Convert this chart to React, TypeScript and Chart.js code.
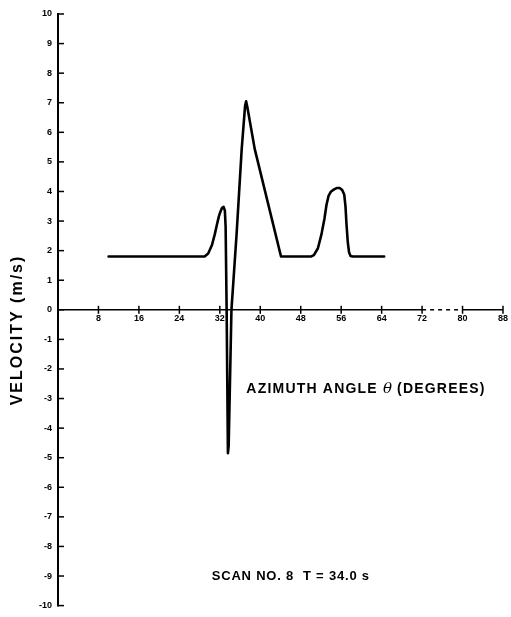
import React, { useEffect, useRef } from "react";
import { Chart, registerables } from "chart.js";

Chart.register(...registerables);

// Azimuth angle θ (degrees) and velocity (m/s)
const angleDeg = [
  10, 29, 29.7, 30.45, 31.0, 31.4, 31.8, 32.1, 32.45, 32.75, 33.0, 33.15, 33.35, 33.6,
  33.75, 34.3, 35.35, 36.33, 37.0, 37.2, 37.45, 38.9, 44.1,
  50, 50.6, 51.4, 52.1, 52.7, 53.1, 53.5, 54.0, 54.6, 55.2, 55.7, 56.2, 56.6, 56.85,
  57.05, 57.3, 57.55, 57.85, 58.3, 64.5,
];
const velocity = [
  1.8, 1.8, 1.9, 2.19, 2.55, 2.86, 3.15, 3.31, 3.45, 3.48, 3.35, 2.8, 0, -4.85,
  -4.6, 0, 2.64, 5.44, 6.9, 7.05, 6.85, 5.44, 1.8,
  1.8, 1.85, 2.08, 2.55, 3.09, 3.55, 3.85, 4.0, 4.07, 4.12, 4.12, 4.05, 3.9, 3.5,
  2.9, 2.3, 1.95, 1.82, 1.8, 1.8,
];

const xTickValues = [8, 16, 24, 32, 40, 48, 56, 64, 72, 80, 88];
const yTickValues = [-10, -9, -8, -7, -6, -5, -4, -3, -2, -1, 0, 1, 2, 3, 4, 5, 6, 7, 8, 9, 10];

const yTitle = "VELOCITY (m/s)";
const xTitleParts = ["AZIMUTH ANGLE ", "θ", " (DEGREES)"];
const scanCaption = "SCAN NO. 8  T = 34.0 s";

const FONT = "'Liberation Sans', Arial, Helvetica, sans-serif";

const axesPlugin = {
  id: "axesPlugin",
  afterDraw(chart: any) {
    const { ctx, scales } = chart;
    const xs = scales.x;
    const ys = scales.y;
    const x0 = xs.getPixelForValue(0);
    const y0 = ys.getPixelForValue(0);
    ctx.save();
    ctx.strokeStyle = "#000";
    ctx.fillStyle = "#000";
    ctx.lineCap = "butt";

    // y axis line
    ctx.lineWidth = 2;
    ctx.beginPath();
    ctx.moveTo(x0, ys.getPixelForValue(10) - 1);
    ctx.lineTo(x0, ys.getPixelForValue(-10) + 1);
    ctx.stroke();
    // y tick marks (inward)
    ctx.lineWidth = 1.5;
    yTickValues.forEach((v) => {
      const py = ys.getPixelForValue(v);
      ctx.beginPath();
      ctx.moveTo(x0, py);
      ctx.lineTo(x0 + 6, py);
      ctx.stroke();
    });

    // x axis line: solid, then dashed part
    ctx.lineWidth = 1.5;
    ctx.beginPath();
    ctx.moveTo(x0, y0);
    ctx.lineTo(xs.getPixelForValue(72), y0);
    ctx.stroke();
    ctx.setLineDash([4, 4]);
    ctx.beginPath();
    ctx.moveTo(xs.getPixelForValue(72), y0);
    ctx.lineTo(xs.getPixelForValue(80), y0);
    ctx.stroke();
    ctx.setLineDash([]);
    ctx.beginPath();
    ctx.moveTo(xs.getPixelForValue(80), y0);
    ctx.lineTo(xs.getPixelForValue(88), y0);
    ctx.stroke();
    // x tick marks crossing the axis
    xTickValues.forEach((v) => {
      const px = xs.getPixelForValue(v);
      ctx.beginPath();
      ctx.moveTo(px, y0 - 4);
      ctx.lineTo(px, y0 + 4);
      ctx.stroke();
    });

    // y title
    ctx.save();
    ctx.translate(18, 330);
    ctx.rotate(-Math.PI / 2);
    ctx.font = `bold 16px ${FONT}`;
    (ctx as any).letterSpacing = "2px";
    ctx.textAlign = "center";
    ctx.textBaseline = "middle";
    ctx.fillText(yTitle, 0, 0);
    ctx.restore();

    // x title near the curve
    ctx.save();
    ctx.textBaseline = "middle";
    ctx.textAlign = "left";
    let tx = xs.getPixelForValue(37.25);
    const ty = ys.getPixelForValue(-2.68);
    xTitleParts.forEach((part, i) => {
      if (i === 1) {
        ctx.font = `italic 15px 'DejaVu Serif', serif`;
        (ctx as any).letterSpacing = "0px";
      } else {
        ctx.font = `bold 14px ${FONT}`;
        (ctx as any).letterSpacing = "1.2px";
      }
      ctx.fillText(part, tx, ty);
      tx += ctx.measureText(part).width;
    });
    ctx.restore();

    // scan caption
    ctx.save();
    ctx.font = `bold 13px ${FONT}`;
    (ctx as any).letterSpacing = "0.8px";
    ctx.textAlign = "left";
    ctx.textBaseline = "middle";
    ctx.fillText(scanCaption, xs.getPixelForValue(30.4), ys.getPixelForValue(-9.0));
    ctx.restore();

    ctx.restore();
  },
};

export default function App() {
  const canvasRef = useRef<HTMLCanvasElement | null>(null);

  useEffect(() => {
    const canvas = canvasRef.current;
    if (!canvas) return;
    const points = angleDeg.map((a, i) => ({ x: a, y: velocity[i] }));
    const chart = new Chart(canvas, {
      type: "line",
      data: {
        datasets: [
          {
            data: points,
            borderColor: "#000",
            borderWidth: 2.6,
            borderJoinStyle: "round",
            borderCapStyle: "round",
            pointRadius: 0,
            fill: false,
            tension: 0,
          },
        ],
      },
      options: {
        animation: false,
        responsive: false,
        maintainAspectRatio: false,
        devicePixelRatio: 1,
        layout: { padding: { top: 14, bottom: 8, left: 0, right: 5 } },
        plugins: { legend: { display: false }, tooltip: { enabled: false }, title: { display: false } },
        scales: {
          x: {
            type: "linear",
            min: 0,
            max: 88,
            position: { y: 0 } as any,
            grid: { display: false, drawTicks: false },
            border: { display: false },
            afterBuildTicks: (scale: any) => {
              scale.ticks = xTickValues.map((v) => ({ value: v }));
            },
            ticks: {
              color: "#000",
              font: { family: FONT, size: 9, weight: "bold" },
              padding: 3,
              maxRotation: 0,
              autoSkip: false,
            },
          },
          y: {
            type: "linear",
            position: "left",
            min: -10,
            max: 10,
            grid: { display: false, drawTicks: false },
            border: { display: false },
            afterBuildTicks: (scale: any) => {
              scale.ticks = yTickValues.map((v) => ({ value: v }));
            },
            afterFit: (scale: any) => {
              scale.width = 58;
            },
            ticks: {
              color: "#000",
              font: { family: FONT, size: 9, weight: "bold" },
              padding: 6,
              autoSkip: false,
            },
          },
        },
      },
      plugins: [axesPlugin],
    } as any);
    return () => chart.destroy();
  }, []);

  return (
    <div style={{ position: "fixed", left: 0, top: 0, width: 511, height: 617, background: "#fff" }}>
      <canvas ref={canvasRef} width={511} height={617} style={{ width: 511, height: 617 }} />
    </div>
  );
}
